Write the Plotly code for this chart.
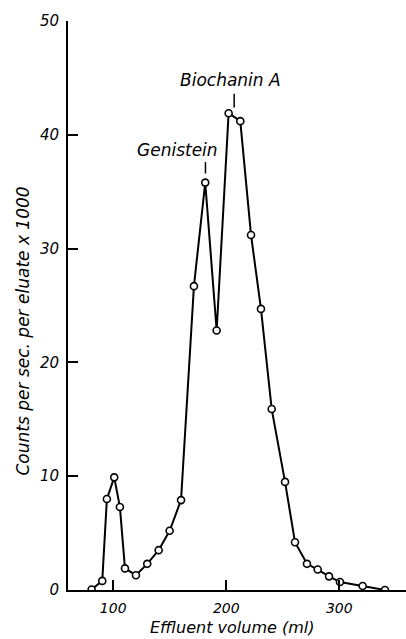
import plotly.graph_objects as go

volume_ml = [80.9, 90.3, 94.4, 100.9, 105.9, 110.4, 120.1, 130.1, 140.2, 149.9, 160.0,
             171.4, 181.4, 191.5, 202.1, 212.4, 221.9, 230.7, 240.2, 252.0, 260.8,
             271.4, 280.9, 290.9, 300.6, 320.7, 340.4]
counts = [0.05, 0.8, 8.0, 9.9, 7.3, 1.9, 1.3, 2.3, 3.5, 5.2, 7.9,
          26.7, 35.8, 22.8, 41.9, 41.2, 31.2, 24.7, 15.9, 9.5, 4.2,
          2.3, 1.8, 1.2, 0.7, 0.35, 0.0]

x_ticks = [100, 200, 300]
y_ticks = [0, 10, 20, 30, 40, 50]

peak_labels = ["Genistein", "Biochanin A"]
label_x = [156.8, 204.0]
label_y = [38.7, 44.8]
leader_x = [181.6, 207.0]
leader_y0 = [36.6, 42.4]
leader_y1 = [37.6, 43.6]

FONT = "DejaVu Sans"

fig = go.Figure()
fig.add_trace(go.Scatter(
    x=volume_ml, y=counts, mode="lines+markers",
    line=dict(color="black", width=2),
    marker=dict(symbol="circle", size=7, color="white",
                line=dict(color="black", width=1.6)),
    showlegend=False, hoverinfo="skip"))

for t, lx, ly in zip(peak_labels, label_x, label_y):
    fig.add_annotation(x=lx, y=ly, text=t, showarrow=False, xanchor="center", yanchor="middle",
                       font=dict(family=FONT, size=17, color="black", style="italic"))
for lx, y0, y1 in zip(leader_x, leader_y0, leader_y1):
    fig.add_shape(type="line", x0=lx, x1=lx, y0=y0, y1=y1, xref="x", yref="y",
                  line=dict(color="black", width=1.5))

fig.add_annotation(text="Counts per sec. per eluate x 1000", xref="paper", yref="paper",
                   x=0, y=0.5, xanchor="center", yanchor="middle", textangle=-90,
                   xshift=-46, yshift=-26, showarrow=False,
                   font=dict(family=FONT, size=17, color="black", style="italic"))
fig.add_annotation(text="Effluent volume (ml)", xref="paper", yref="paper",
                   x=0.5, y=0, xanchor="center", yanchor="bottom",
                   xshift=-5, yshift=-49, showarrow=False,
                   font=dict(family=FONT, size=16, color="black", style="italic"))

fig.update_xaxes(range=[60, 359], tickvals=x_ticks, ticks="inside", ticklen=10, tickwidth=1.5,
                 tickcolor="black", showline=True, linecolor="black", linewidth=2,
                 showgrid=False, zeroline=False, ticklabelstandoff=4,
                 tickfont=dict(family=FONT, size=14, color="black", style="italic"))
fig.update_yaxes(range=[0, 50], tickvals=y_ticks, ticks="inside", ticklen=10, tickwidth=1.5,
                 tickcolor="black", showline=True, linecolor="black", linewidth=2,
                 showgrid=False, zeroline=False, ticklabelstandoff=4,
                 tickfont=dict(family=FONT, size=15, color="black", style="italic"))

fig.update_layout(width=406, height=639, margin=dict(l=68, r=0, t=21, b=49),
                  plot_bgcolor="white", paper_bgcolor="white")

fig.write_html("out.html")
